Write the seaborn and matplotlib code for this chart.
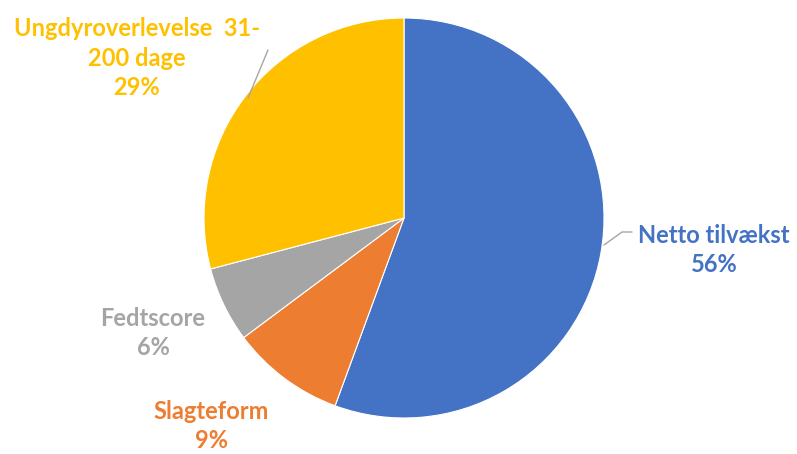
import matplotlib
matplotlib.use("Agg")
import matplotlib.pyplot as plt
import seaborn as sns

sns.set_theme(style="white")
plt.rcParams['font.family'] = ['Lato', 'DejaVu Sans']

# Data
kategorier = ['Netto tilvækst', 'Slagteform', 'Fedtscore', 'Ungdyroverlevelse  31-\n200 dage']
andele = [55.6, 9.2, 6.1, 29.1]
farver = ['#4472C4', '#ED7D31', '#A5A5A5', '#FFC000']

# Placering af labels (data-koordinater, radius = 1)
label_pos = [(1.55, -0.16), (-0.965, -1.04), (-1.255, -0.575), (-1.335, 0.80)]

W, H = 797, 454
fig = plt.figure(figsize=(W / 100, H / 100), dpi=100)
# cirkel: centrum (404, 218) px, radius 200 px
ax = fig.add_axes([204 / W, (H - 418) / H, 400 / W, 400 / H])

ax.pie(andele, colors=farver, startangle=90, counterclock=False, radius=1,
       wedgeprops=dict(edgecolor='white', linewidth=0.8))
ax.set_xlim(-1, 1)
ax.set_ylim(-1, 1)
ax.set_aspect('equal')
ax.axis('off')

total = sum(andele)
for navn, v, c, (x, y) in zip(kategorier, andele, farver, label_pos):
    ax.text(x, y, f"{navn}\n{round(v / total * 100):.0f}%", ha='center', va='center',
            color=c, fontsize=17, fontweight='bold', linespacing=1.35, clip_on=False)

# ledelinjer
ax.plot([1.0, 1.09, 1.14], [-0.135, -0.07, -0.07], color='#A6A6A6', lw=1, clip_on=False)
ax.plot([-0.78, -0.68], [0.60, 0.84], color='#A6A6A6', lw=1, clip_on=False)

fig.savefig('out.png', dpi=100)
